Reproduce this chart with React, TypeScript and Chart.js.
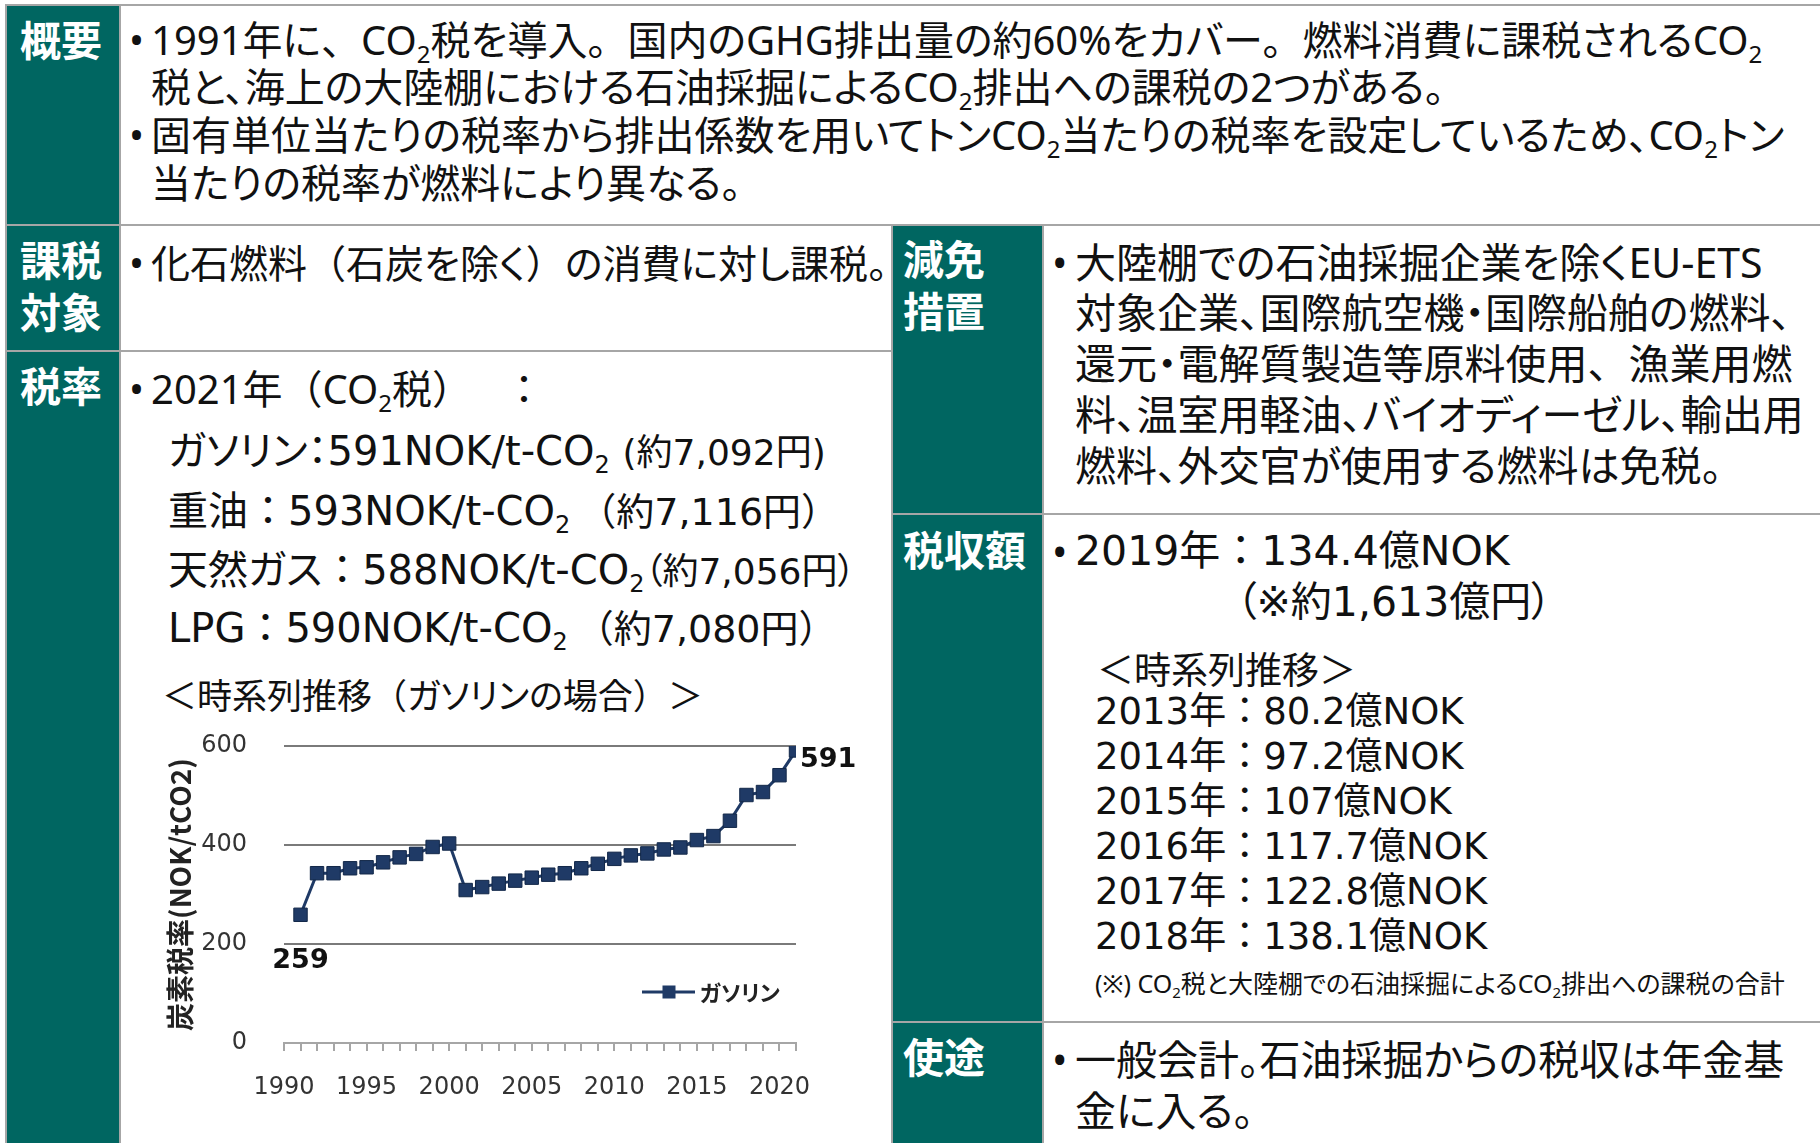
import React, { useEffect, useRef } from 'react';
import { Chart, registerables } from 'chart.js';

Chart.register(...registerables);

// ---- chart data ----
const years = [1991, 1992, 1993, 1994, 1995, 1996, 1997, 1998, 1999, 2000, 2001, 2002, 2003, 2004, 2005, 2006, 2007, 2008, 2009, 2010, 2011, 2012, 2013, 2014, 2015, 2016, 2017, 2018, 2019, 2020, 2021];
const gasolineRates = [259, 343, 343, 353, 355, 365, 375, 382, 396, 403, 309, 315, 322, 328, 334, 340, 343, 353, 362, 372, 379, 383, 391, 395, 410, 418, 449, 501, 507, 541, 591];
const seriesName = 'ガソリン';
const yAxisTitle = '炭素税率(NOK/tCO2)';
const xMin = 1990;
const xMax = 2021;
const xLabelStep = 5;
const yMax = 600;
const yStep = 200;

const NAVY = '#1f3a66';
const TEAL = '#006661';
const BORDER = '#a6a6a6';
const FONT = '"Noto Sans", "Noto Sans CJK JP", sans-serif';
const WIDE = '"DejaVu Sans", "Noto Sans CJK JP", sans-serif';

const pointLabels = {
  id: 'pointLabels',
  afterDatasetsDraw(chart: any) {
    const meta = chart.getDatasetMeta(0);
    const ctx = chart.ctx;
    const first = meta.data[0];
    const last = meta.data[meta.data.length - 1];
    ctx.save();
    ctx.fillStyle = '#111';
    ctx.font = 'bold 27px "DejaVu Sans", sans-serif';
    ctx.textBaseline = 'middle';
    ctx.textAlign = 'center';
    ctx.fillText(String(gasolineRates[0]), first.x, first.y + 46);
    ctx.textAlign = 'left';
    ctx.fillText(String(gasolineRates[gasolineRates.length - 1]), last.x + 4, last.y + 10);
    ctx.restore();
  },
};

const customLegend = {
  id: 'customLegend',
  afterDraw(chart: any) {
    const ctx = chart.ctx;
    const ds = chart.data.datasets[0];
    const y = 272;
    ctx.save();
    ctx.strokeStyle = ds.borderColor;
    ctx.lineWidth = 3;
    ctx.beginPath();
    ctx.moveTo(482, y);
    ctx.lineTo(535, y);
    ctx.stroke();
    ctx.fillStyle = ds.backgroundColor;
    ctx.fillRect(509 - 6.5, y - 6.5, 13, 13);
    ctx.fillStyle = '#222';
    ctx.font = 'bold 22px "Noto Sans CJK JP", sans-serif';
    ctx.textBaseline = 'middle';
    ctx.textAlign = 'left';
    ctx.fillText(ds.label, 540, y + 1);
    ctx.restore();
  },
};

function GasChart() {
  const ref = useRef<HTMLCanvasElement>(null);
  useEffect(() => {
    if (!ref.current) return;
    const chart = new Chart(ref.current, {
      type: 'line',
      data: {
        datasets: [
          {
            label: seriesName,
            data: years.map((yr, i) => ({ x: yr, y: gasolineRates[i] })),
            borderColor: NAVY,
            backgroundColor: NAVY,
            borderWidth: 3,
            pointStyle: 'rect',
            pointRadius: 9.5,
            pointBorderColor: '#132849',
            pointBorderWidth: 1,
            tension: 0,
          },
        ],
      },
      options: {
        animation: false,
        responsive: false,
        maintainAspectRatio: false,
        layout: { padding: { top: 0, right: 64, bottom: 0, left: 0 } },
        plugins: { legend: { display: false }, tooltip: { enabled: false } },
        scales: {
          x: {
            type: 'linear',
            min: xMin,
            max: xMax,
            afterFit: (s: any) => {
              s.height = 87;
            },
            ticks: {
              stepSize: 1,
              autoSkip: false,
              maxTicksLimit: 100,
              maxRotation: 0,
              padding: 22,
              color: '#333',
              font: { family: '"DejaVu Sans", sans-serif', size: 24 },
              callback: (v: any) => (Number(v) % xLabelStep === 0 ? String(v) : ''),
            },
            grid: { drawOnChartArea: false, drawTicks: true, tickLength: 8, color: BORDER, lineWidth: 2 },
            border: { color: BORDER, width: 2 },
          },
          y: {
            min: 0,
            max: yMax,
            afterFit: (s: any) => {
              s.width = 124;
              s.paddingTop = 26;
              s.paddingBottom = 0;
            },
            ticks: {
              stepSize: yStep,
              padding: 37,
              color: '#333',
              font: { family: '"DejaVu Sans", sans-serif', size: 24 },
            },
            grid: {
              drawTicks: false,
              lineWidth: 2,
              color: (c: any) => (c.tick && c.tick.value === 0 ? 'rgba(0,0,0,0)' : '#7a7a7a'),
            },
            border: { display: false },
            title: {
              display: true,
              text: yAxisTitle,
              color: '#222',
              font: { family: '"Noto Sans CJK JP", sans-serif', size: 28, weight: 'bold' },
            },
          },
        },
      },
      plugins: [pointLabels, customLegend],
    });
    return () => chart.destroy();
  }, []);
  return (
    <canvas
      ref={ref}
      width={700}
      height={410}
      style={{ position: 'absolute', left: 160, top: 720, width: 700, height: 410 }}
    />
  );
}

// ---- layout helpers ----
const Sub = () => (
  <span style={{ fontSize: '0.6em', position: 'relative', top: '0.35em' }}>2</span>
);
const CO2 = () => (
  <>
    CO
    <Sub />
  </>
);
const N = ({ children }: { children: React.ReactNode }) => (
  <span style={{ fontFeatureSettings: 'normal' }}>{children}</span>
);

function Cell({ x1, y1, x2, y2, head }: { x1: number; y1: number; x2: number; y2: number; head?: boolean }) {
  return (
    <div
      style={{
        position: 'absolute',
        left: x1 - 1,
        top: y1 - 1,
        width: x2 - x1 + 2,
        height: y2 - y1 + 2,
        boxSizing: 'border-box',
        border: `2px solid ${BORDER}`,
        background: head ? TEAL : '#fff',
      }}
    />
  );
}

function T({
  x,
  y,
  size,
  bold,
  color,
  font,
  children,
}: {
  x: number;
  y: number;
  size: number;
  bold?: boolean;
  color?: string;
  font?: string;
  children: React.ReactNode;
}) {
  const lh = size * 1.3;
  return (
    <div
      style={{
        position: 'absolute',
        left: x,
        top: y - lh / 2 - size * 0.05,
        height: lh,
        lineHeight: `${lh}px`,
        fontSize: size,
        fontWeight: bold ? 700 : 400,
        color: color || '#111',
        whiteSpace: 'nowrap',
        fontFamily: font || FONT,
      }}
    >
      {children}
    </div>
  );
}

const Bullet = ({ x, y, size }: { x: number; y: number; size: number }) => (
  <T x={x} y={y} size={size}>
    •
  </T>
);

export default function App() {
  const B = 40;
  const R = 41;
  const H = 41;
  const P = 36;
  return (
    <div
      style={{
        position: 'fixed',
        left: 0,
        top: 0,
        width: 1820,
        height: 1143,
        overflow: 'hidden',
        background: '#fff',
        fontFamily: FONT,
        fontFeatureSettings: '"palt"',
      }}
    >
      {/* cells */}
      <Cell x1={6} y1={5} x2={120} y2={225} head />
      <Cell x1={120} y1={5} x2={1830} y2={225} />
      <Cell x1={6} y1={225} x2={120} y2={351} head />
      <Cell x1={120} y1={225} x2={892} y2={351} />
      <Cell x1={6} y1={351} x2={120} y2={1160} head />
      <Cell x1={120} y1={351} x2={892} y2={1160} />
      <Cell x1={892} y1={225} x2={1043} y2={514} head />
      <Cell x1={1043} y1={225} x2={1830} y2={514} />
      <Cell x1={892} y1={514} x2={1043} y2={1022} head />
      <Cell x1={1043} y1={514} x2={1830} y2={1022} />
      <Cell x1={892} y1={1022} x2={1043} y2={1160} head />
      <Cell x1={1043} y1={1022} x2={1830} y2={1160} />

      {/* headers */}
      <T x={20} y={43} size={H} bold color="#fff">概要</T>
      <T x={20} y={263} size={H} bold color="#fff">課税</T>
      <T x={20} y={315} size={H} bold color="#fff">対象</T>
      <T x={20} y={389} size={H} bold color="#fff">税率</T>
      <T x={903} y={262} size={H} bold color="#fff">減免</T>
      <T x={903} y={314} size={H} bold color="#fff">措置</T>
      <T x={903} y={553} size={H} bold color="#fff">税収額</T>
      <T x={903} y={1060} size={H} bold color="#fff">使途</T>

      {/* row 1 */}
      <Bullet x={129} y={42} size={B} />
      <T x={151} y={42} size={B}>
        1991年に<N>、</N><CO2 />税を導入<N>。</N>国内のGHG排出量の約60%をカバー<N>。</N>燃料消費に課税される<CO2 />
      </T>
      <T x={151} y={89} size={B}>
        税と、海上の大陸棚における石油採掘による<CO2 />排出への課税の2つがある。
      </T>
      <Bullet x={129} y={137} size={B} />
      <T x={151} y={137} size={B}>
        固有単位当たりの税率から排出係数を用いてトン<CO2 />当たりの税率を設定しているため、<CO2 />トン
      </T>
      <T x={151} y={185} size={B}>当たりの税率が燃料により異なる。</T>

      {/* row 2 */}
      <Bullet x={129} y={265} size={B} />
      <T x={151} y={265} size={39}>
        化石燃料<N>（</N>石炭を除く<N>）</N>の消費に対し課税。
      </T>

      {/* row 3 */}
      <Bullet x={129} y={391} size={B} />
      <T x={151} y={391} size={B}>
        2021年<N>（</N><CO2 />税<N>）　</N><span style={{ marginLeft: 12 }}><N>：</N></span>
      </T>
      <T x={168} y={453} size={40} font={WIDE}>
        ガソリン：591NOK/t-<CO2 /> <span style={{ fontSize: P }}>(約7,092円)</span>
      </T>
      <T x={168} y={513} size={40} font={WIDE}>
        重油<N>：</N>593NOK/t-<CO2 />
        <span style={{ fontSize: 38, marginLeft: 8 }}><N>（</N>約7,116円<N>）</N></span>
      </T>
      <T x={168} y={572} size={40} font={WIDE}>
        天然ガス<N>：</N>588NOK/t-<CO2 /><span style={{ fontSize: P }}>（約7,056円）</span>
      </T>
      <T x={168} y={630} size={40} font={WIDE}>
        LPG<N>：</N>590NOK/t-<CO2 />
        <span style={{ fontSize: 38, marginLeft: 8 }}><N>（</N>約7,080円<N>）</N></span>
      </T>
      <T x={162} y={697} size={35}>
        ＜時系列推移<N>（</N>ガソリンの場合<N>）</N>＞
      </T>

      <GasChart />

      {/* 減免措置 */}
      <Bullet x={1052} y={265} size={R} />
      <T x={1075} y={265} size={R}>大陸棚での石油採掘企業を除くEU-ETS</T>
      <T x={1075} y={315} size={R}>対象企業、国際航空機・国際船舶の燃料、</T>
      <T x={1075} y={366} size={R}>還元・電解質製造等原料使用<N>、</N>漁業用燃</T>
      <T x={1075} y={417} size={R}>料、温室用軽油、バイオディーゼル、輸出用</T>
      <T x={1075} y={468} size={R}>燃料、外交官が使用する燃料は免税。</T>

      {/* 税収額 */}
      <Bullet x={1052} y={554} size={R} />
      <T x={1075} y={554} size={R} font={WIDE}>2019年<N>：</N>134.4億NOK</T>
      <T x={1236} y={605} size={R} font={WIDE}>（※約1,613億円）</T>
      <T x={1097} y={672} size={37}>＜時系列推移＞</T>
      <T x={1095} y={714} size={37} font={WIDE}>2013年<N>：</N>80.2億NOK</T>
      <T x={1095} y={759} size={37} font={WIDE}>2014年<N>：</N>97.2億NOK</T>
      <T x={1095} y={804} size={37} font={WIDE}>2015年<N>：</N>107億NOK</T>
      <T x={1095} y={849} size={37} font={WIDE}>2016年<N>：</N>117.7億NOK</T>
      <T x={1095} y={894} size={37} font={WIDE}>2017年<N>：</N>122.8億NOK</T>
      <T x={1095} y={939} size={37} font={WIDE}>2018年<N>：</N>138.1億NOK</T>
      <T x={1095} y={984} size={25}>
        (※) <CO2 />税と大陸棚での石油採掘による<CO2 />排出への課税の合計
      </T>

      {/* 使途 */}
      <Bullet x={1052} y={1062} size={R} />
      <T x={1075} y={1062} size={R}>一般会計。石油採掘からの税収は年金基</T>
      <T x={1075} y={1113} size={R}>金に入る。</T>
    </div>
  );
}
